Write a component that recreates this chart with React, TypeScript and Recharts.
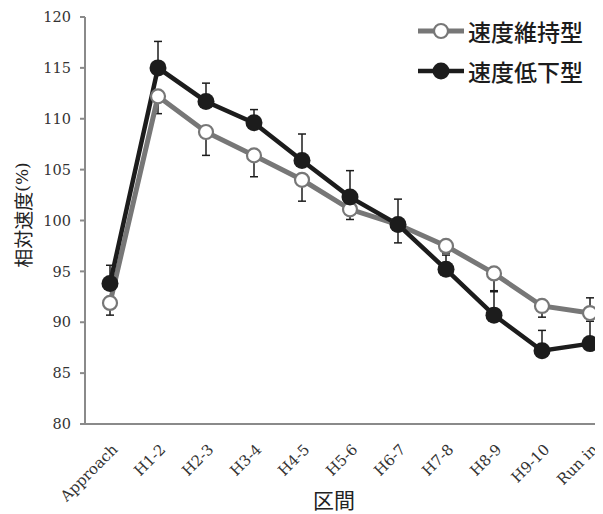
import React from 'react';
import { LineChart, Line, XAxis, YAxis, ErrorBar, Legend, Label } from 'recharts';

const sections = ['Approach', 'H1-2', 'H2-3', 'H3-4', 'H4-5', 'H5-6', 'H6-7', 'H7-8', 'H8-9', 'H9-10', 'Run in'];

// 速度維持型 (open circles)
const keepSpeed = [91.9, 112.2, 108.7, 106.4, 104.0, 101.1, 99.6, 97.5, 94.8, 91.6, 90.9];
const keepErrDown = [1.2, 1.7, 2.3, 2.1, 2.1, 1.0, 1.8, 0.7, 1.7, 1.1, 0];
const keepErrUp = [0, 0, 0, 0, 0, 0, 0, 0, 0, 0, 1.5];

// 速度低下型 (filled circles)
const dropSpeed = [93.8, 115.0, 111.7, 109.6, 105.9, 102.3, 99.6, 95.2, 90.7, 87.2, 87.9];
const dropErrDown = [0, 0, 0, 0, 0, 0, 0, 0, 0, 0, 0];
const dropErrUp = [1.8, 2.6, 1.8, 1.3, 2.6, 2.6, 2.5, 1.4, 2.3, 2.0, 2.2];

const yTicks = [80, 85, 90, 95, 100, 105, 110, 115, 120];

const data = sections.map((name, i) => ({
  name,
  keep: keepSpeed[i],
  keepErr: [keepErrDown[i], keepErrUp[i]],
  drop: dropSpeed[i],
  dropErr: [dropErrDown[i], dropErrUp[i]],
}));

const GRAY = '#777777';
const DARK = '#1c1c1c';
const AXIS = '#8a8a8a';
const SERIF = '"DejaVu Serif", serif';
const GOTHIC = '"Noto Sans CJK JP", "Noto Sans", sans-serif';

const LegendBox = () => {
  const rows = [
    { label: '速度維持型', color: GRAY, fill: '#fff', lw: 5, r: 7, sw: 2.2 },
    { label: '速度低下型', color: DARK, fill: DARK, lw: 4.5, r: 8.5, sw: 0 },
  ];
  return (
    <div>
      {rows.map((row) => (
        <div key={row.label} style={{ display: 'flex', alignItems: 'center', height: 40 }}>
          <svg width={46} height={20} style={{ marginRight: 4 }}>
            <line x1={0} y1={10} x2={46} y2={10} stroke={row.color} strokeWidth={row.lw} />
            <circle cx={23} cy={10} r={row.r} fill={row.fill} stroke={row.color} strokeWidth={row.sw} />
          </svg>
          <span style={{ fontFamily: GOTHIC, fontSize: 23, fontWeight: 500, color: DARK, lineHeight: 1 }}>
            {row.label}
          </span>
        </div>
      ))}
    </div>
  );
};

export default function App() {
  return (
    <LineChart width={595} height={506} data={data} margin={{ top: 9, right: 0, left: 0, bottom: 0 }}>
      <XAxis
        dataKey="name"
        height={90}
        angle={-45}
        textAnchor="end"
        dx={1}
        tick={{ fontFamily: SERIF, fontSize: 15, fill: '#333' }}
        tickLine={false}
        tickSize={0}
        tickMargin={19}
        interval={0}
        axisLine={{ stroke: AXIS, strokeWidth: 2 }}
        padding={{ left: 25, right: 13 }}
      >
        <Label
          content={() => (
            <text x={326} y={500} textAnchor="middle" fontFamily={GOTHIC} fontSize={21} fill="#222">
              区間
            </text>
          )}
        />
      </XAxis>
      <YAxis
        type="number"
        width={77}
        domain={[80, 120]}
        ticks={yTicks}
        interval={0}
        tickSize={5}
        tickMargin={9}
        tick={{ fontFamily: SERIF, fontSize: 14.5, fill: '#333' }}
        tickLine={{ stroke: AXIS, strokeWidth: 2 }}
        axisLine={{ stroke: AXIS, strokeWidth: 2 }}
      >
        <Label
          content={() => (
            <text
              x={14}
              y={207}
              transform="rotate(-90, 14, 207)"
              textAnchor="middle"
              dominantBaseline="central"
              fontFamily={GOTHIC}
              fontSize={19}
              fill="#222"
            >
              相対速度<tspan fontFamily={SERIF} fontSize={17}>(%)</tspan>
            </text>
          )}
        />
      </YAxis>
      <Legend
        layout="vertical"
        align="center"
        verticalAlign="middle"
        content={<LegendBox />}
        wrapperStyle={{ top: 3, left: 410, width: 190 }}
      />
      <Line
        dataKey="keep"
        name="速度維持型"
        stroke={GRAY}
        strokeWidth={5}
        dot={{ r: 7, fill: '#fff', stroke: GRAY, strokeWidth: 2.2 }}
        activeDot={false}
        isAnimationActive={false}
      >
        <ErrorBar dataKey="keepErr" direction="y" width={4} stroke={DARK} strokeWidth={1.5} isAnimationActive={false} />
      </Line>
      <Line
        dataKey="drop"
        name="速度低下型"
        stroke={DARK}
        strokeWidth={4.5}
        dot={{ r: 8.5, fill: DARK, stroke: DARK, strokeWidth: 0 }}
        activeDot={false}
        isAnimationActive={false}
      >
        <ErrorBar dataKey="dropErr" direction="y" width={4} stroke={DARK} strokeWidth={1.5} isAnimationActive={false} />
      </Line>
    </LineChart>
  );
}
